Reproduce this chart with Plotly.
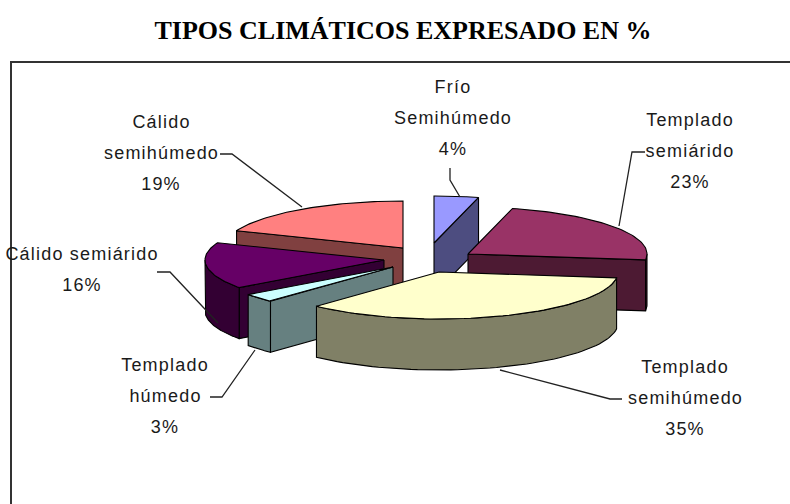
import numpy as np
import plotly.graph_objects as go

# ---- data -------------------------------------------------------------
categories = ["Frío Semihúmedo", "Templado semiárido", "Templado semihúmedo",
              "Templado húmedo", "Cálido semiárido", "Cálido semihúmedo"]
values = [4, 23, 35, 3, 16, 19]
label_lines = [["Frío", "Semihúmedo"], ["Templado", "semiárido"], ["Templado", "semihúmedo"],
               ["Templado", "húmedo"], ["Cálido semiárido"], ["Cálido", "semihúmedo"]]
top_colors = ["#9999FF", "#993366", "#FFFFCC", "#CCFFFF", "#660066", "#FF8080"]
side_colors = ["#4D4D80", "#4D1A33", "#808066", "#668080", "#330033", "#804040"]

# ---- drawing geometry (canvas units of the axes) -----------------------
RX, RY, DEPTH = 179, 47, 51
apex_x = [434, 468, 439, 393, 384, 403]
apex_y = [243, 254, 272, 267, 260, 248]
label_x = [453, 690, 685, 165, 82, 161]
label_y = [87, 120, 367, 365, 254, 122]
LINE_GAP = 31
leader_x = [[450, 450, 460], [645, 632, 619], [622, 610, 500], [210, 222, 255],
            [157, 170, 218], [220, 232, 302]]
leader_y = [[168, 180, 197], [152, 152, 226], [399, 399, 370], [397, 397, 350],
            [272, 272, 323], [154, 154, 207]]
draw_order = [0, 5, 1, 4, 3, 2]

fig = go.Figure()


def poly(xs, ys, color):
    fig.add_trace(go.Scatter(x=xs, y=ys, mode="lines", fill="toself", fillcolor=color,
                             line=dict(color="#000000", width=1.1), hoverinfo="skip",
                             showlegend=False))


fractions = np.array(values) / sum(values)
edges = np.concatenate([[0], np.cumsum(fractions)]) * 360

for i in draw_order:
    a0, a1 = edges[i], edges[i + 1]
    cx, cy = apex_x[i], apex_y[i]

    def px(a):
        return cx + RX * np.sin(np.radians(a))

    def py(a):
        return cy - RY * np.cos(np.radians(a))

    # radial walls that face the viewer
    if 180 < a0 < 360:
        poly([cx, px(a0), px(a0), cx, cx], [cy, py(a0), py(a0) + DEPTH, cy + DEPTH, cy], side_colors[i])
    if 0 < a1 < 180:
        poly([cx, px(a1), px(a1), cx, cx], [cy, py(a1), py(a1) + DEPTH, cy + DEPTH, cy], side_colors[i])
    # outer wall
    lo, hi = max(a0, 90), min(a1, 270)
    if hi > lo:
        t = np.linspace(lo, hi, 60)
        xs = np.concatenate([px(t), px(t[::-1])])
        ys = np.concatenate([py(t), py(t[::-1]) + DEPTH])
        poly(list(xs) + [xs[0]], list(ys) + [ys[0]], side_colors[i])
    # top face
    t = np.linspace(a0, a1, 60)
    poly([cx] + list(px(t)) + [cx], [cy] + list(py(t)) + [cy], top_colors[i])

# leader lines
for lx, ly in zip(leader_x, leader_y):
    fig.add_trace(go.Scatter(x=lx, y=ly, mode="lines", line=dict(color="#222222", width=1.3),
                             hoverinfo="skip", showlegend=False))

# frame: left and top only run to the picture edge
fig.add_trace(go.Scatter(x=[11, 11, 790], y=[504, 62, 62], mode="lines",
                         line=dict(color="#333333", width=2), hoverinfo="skip", showlegend=False))

# labels
for i, lines in enumerate(label_lines):
    rows = lines + [f"{values[i]}%"]
    for k, row in enumerate(rows):
        fig.add_annotation(x=label_x[i], y=label_y[i] + k * LINE_GAP, text=row, showarrow=False,
                           xanchor="center", yanchor="middle",
                           font=dict(family="Liberation Sans", size=18, color="#1a1a1a"))

fig.update_layout(width=790, height=504, autosize=False, margin=dict(l=0, r=0, t=0, b=0),
                  title=dict(text="<b>TIPOS CLIMÁTICOS EXPRESADO EN %</b>", x=403 / 790, y=1 - 30 / 504,
                             xanchor="center", yanchor="middle",
                             font=dict(family="Liberation Serif", size=26, color="#000000")),
                  paper_bgcolor="white", plot_bgcolor="white", showlegend=False,
                  xaxis=dict(range=[0, 790], visible=False, fixedrange=True),
                  yaxis=dict(range=[504, 0], visible=False, fixedrange=True))
fig.write_html("out.html", config={"displayModeBar": False},
               post_script="document.body.style.margin='0';document.body.style.overflow='hidden';"
                           "var s=document.createElement('style');"
                           "s.textContent='.annotation-text{letter-spacing:1.2px}';"
                           "document.head.appendChild(s);")
